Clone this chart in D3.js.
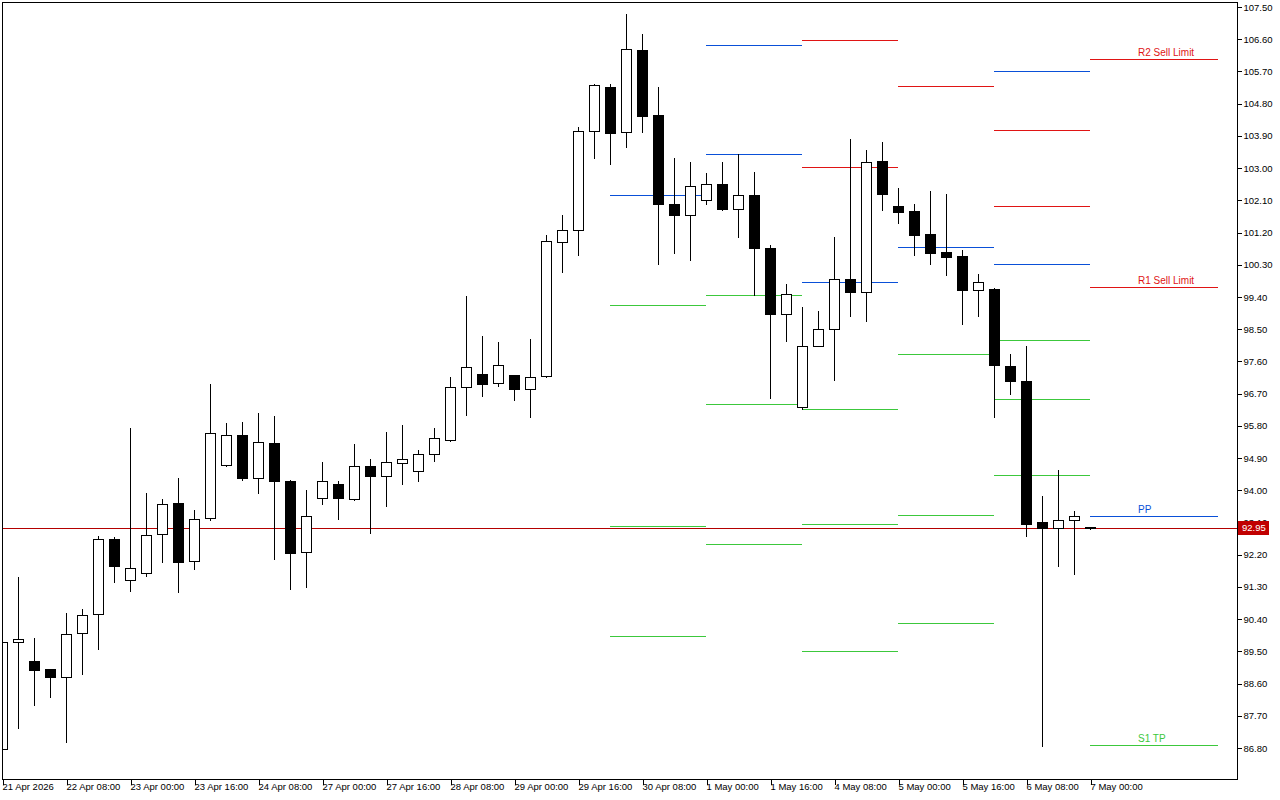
<!DOCTYPE html>
<html><head><meta charset="utf-8">
<script src="https://cdn.jsdelivr.net/npm/d3@7"></script>
<style>
body{margin:0;background:#fff}
svg{display:block}
text{font-family:"Liberation Sans",Arial,sans-serif}
</style>
</head><body>
<svg id="chart" width="1280" height="800"></svg>
<script>
// ---- data ----
const timeLabelIndex = [0,4,8,12,16,20,24,28,32,36,40,44,48,52,56,60,64,68];
const timeLabels = ["21 Apr 2026","22 Apr 08:00","23 Apr 00:00","23 Apr 16:00","24 Apr 08:00",
  "27 Apr 00:00","27 Apr 16:00","28 Apr 08:00","29 Apr 00:00","29 Apr 16:00","30 Apr 08:00",
  "1 May 00:00","1 May 16:00","4 May 08:00","5 May 00:00","5 May 16:00","6 May 08:00","7 May 00:00"];
const priceTicks = [86.80,87.70,88.60,89.50,90.40,91.30,92.20,93.10,94.00,94.90,95.80,96.70,
  97.60,98.50,99.40,100.30,101.20,102.10,103.00,103.90,104.80,105.70,106.60,107.50];

const opens  = [86.77,89.76,89.23,89.00,88.78,90.01,90.54,92.64,91.49,91.69,92.77,93.64,92.02,93.22,94.70,95.54,94.34,95.32,94.26,92.27,
  93.78,94.17,93.75,94.67,94.40,94.76,94.54,95.01,95.40,96.88,97.25,96.99,97.22,96.83,97.19,100.93,101.27,104.04,105.26,104.01,
  106.30,104.48,102.00,101.69,102.11,102.55,101.86,102.25,100.77,98.92,96.32,98.03,98.50,99.90,99.54,103.20,101.94,101.80,101.16,100.65,
  100.54,99.59,99.62,97.47,97.05,93.11,92.94,93.17,92.97];
const highs  = [89.78,91.57,89.87,89.00,90.57,90.68,92.72,92.69,95.74,93.92,93.75,94.34,93.45,96.97,95.88,95.90,96.16,96.07,94.28,94.00,
  94.79,94.26,95.29,94.87,95.62,95.82,95.12,95.74,97.16,99.42,98.31,98.14,97.22,98.22,101.13,101.69,104.15,105.34,105.35,107.30,
  106.75,105.26,103.28,103.17,102.86,103.17,103.39,102.89,100.85,99.76,99.12,99.01,101.07,103.81,103.50,103.73,102.44,102.00,102.36,102.27,
  100.71,100.04,99.65,97.80,98.03,93.84,94.56,93.42,92.97];
const lows   = [86.72,87.35,88.00,88.22,86.96,88.86,89.56,91.43,91.18,91.60,91.99,91.15,91.80,93.17,94.67,94.28,93.92,92.08,91.24,91.29,
  93.61,93.19,93.72,92.80,93.56,94.17,94.26,94.81,95.37,96.10,96.63,96.91,96.52,96.04,97.16,100.10,100.57,103.28,103.11,103.59,
  104.01,100.32,100.63,100.43,102.00,101.83,101.07,99.45,96.57,98.17,96.27,98.03,97.08,98.87,98.73,101.83,101.46,100.57,100.32,100.01,
  98.64,98.87,96.04,96.69,92.72,86.85,91.88,91.66,92.93];
const closes = [89.76,89.84,88.97,88.78,89.98,90.51,92.64,91.88,91.83,92.75,93.61,91.99,93.19,95.60,95.54,94.34,95.35,94.26,92.24,93.28,
  94.26,93.78,94.67,94.40,94.79,94.87,95.01,95.46,96.88,97.44,96.97,97.50,96.83,97.16,100.96,101.27,104.04,105.32,103.98,106.33,
  104.45,102.00,101.69,102.50,102.55,101.86,102.25,100.77,98.92,99.48,98.03,98.50,99.90,99.54,103.17,102.27,101.77,101.13,100.63,100.51,
  99.59,99.82,97.50,97.05,93.05,92.94,93.17,93.28,92.95];

// daily pivot segments: start / end bar index, level values and level kinds (R, P, S)
const pivotStart = [38,44,50,56,62,68];
const pivotEnd   = [44,50,56,62,68,76];
const pivotValues = [
  [102.25,99.17,93.00,89.93],
  [106.44,103.39,99.45,96.41,92.50],
  [106.58,103.03,99.82,96.27,93.05,89.51],
  [105.29,100.79,97.80,93.31,90.29],
  [105.71,104.06,101.94,100.32,98.20,96.55,94.42],
  [106.05,99.68,93.28,86.88]
];
const pivotKinds = [
  ["P","S","S","S"],
  ["P","P","S","S","S"],
  ["R","R","P","S","S","S"],
  ["R","P","S","S","S"],
  ["P","R","R","P","S","S","S"],
  ["R","R","P","S"]
];
const currentLabels = ["R2 Sell Limit","R1 Sell Limit","PP","S1 TP"];
const lastPrice = 92.95;

// ---- chart ----
const svg = d3.select("#chart");
const L = 2, T = 2, R = 1237, B = 779;
const x = d3.scaleLinear().domain([0, 76]).range([2, 2 + 16*76]);
const y = d3.scaleLinear().domain([86.80, 107.50]).range([748, 7]);
const kindColor = {R:"#e01414", P:"#0a50d8", S:"#3cc83c"};

svg.append("rect").attr("width",1280).attr("height",800).attr("fill","#fff");
svg.append("defs").append("clipPath").attr("id","plot")
  .append("rect").attr("x",L+0.5).attr("y",T+0.5).attr("width",R-L).attr("height",B-T);

const g = svg.append("g").attr("clip-path","url(#plot)").attr("shape-rendering","crispEdges");

// current price line
g.append("line").attr("x1",L).attr("x2",R).attr("y1",Math.round(y(lastPrice))+0.5).attr("y2",Math.round(y(lastPrice))+0.5)
  .attr("stroke","#b40000").attr("stroke-width",1);

// pivot lines
const segs = [];
pivotStart.forEach((s,i)=>{
  pivotValues[i].forEach((v,j)=>segs.push({s, e:pivotEnd[i], v, k:pivotKinds[i][j], last:i===pivotStart.length-1, j}));
});
g.selectAll("line.piv").data(segs).join("line").attr("class","piv")
  .attr("x1",d=>x(d.s)).attr("x2",d=>x(d.e))
  .attr("y1",d=>Math.round(y(d.v))+0.5).attr("y2",d=>Math.round(y(d.v))+0.5)
  .attr("stroke",d=>kindColor[d.k]).attr("stroke-width",1);

svg.selectAll("text.plab").data(segs.filter(d=>d.last)).join("text").attr("class","plab")
  .attr("x",d=>x(d.s)+48).attr("y",d=>Math.round(y(d.v))-3)
  .attr("font-size","10px").attr("fill",d=>kindColor[d.k])
  .text(d=>currentLabels[d.j]);

// candles
const bars = d3.range(opens.length).map(i=>({i,o:opens[i],h:highs[i],l:lows[i],c:closes[i]}));
g.selectAll("line.wick").data(bars).join("line").attr("class","wick")
  .attr("x1",d=>x(d.i)+0.5).attr("x2",d=>x(d.i)+0.5)
  .attr("y1",d=>Math.round(y(d.h))).attr("y2",d=>Math.round(y(d.l))+1)
  .attr("stroke","#000").attr("stroke-width",1);
g.selectAll("rect.body").data(bars).join("rect").attr("class","body")
  .attr("x",d=>x(d.i)-5+0.5)
  .attr("y",d=>Math.round(y(Math.max(d.o,d.c)))+0.5)
  .attr("width",10)
  .attr("height",d=>Math.max(1,Math.round(y(Math.min(d.o,d.c)))-Math.round(y(Math.max(d.o,d.c)))))
  .attr("fill",d=>d.c>=d.o?"#fff":"#000")
  .attr("stroke","#000").attr("stroke-width",1);

// frame
svg.append("rect").attr("x",L+0.5).attr("y",T+0.5).attr("width",R-L).attr("height",B-T)
  .attr("fill","none").attr("stroke","#000").attr("shape-rendering","crispEdges");

// price axis
const ya = svg.append("g").attr("transform",`translate(${R+0.5},0)`)
  .call(d3.axisRight(y).tickValues(priceTicks).tickSize(4).tickPadding(2).tickFormat(d3.format(".2f")));
ya.select(".domain").remove();
ya.selectAll("line").attr("stroke","#000").attr("shape-rendering","crispEdges");
ya.selectAll("text").attr("font-family","'Liberation Sans',Arial,sans-serif").attr("font-size","9.5px").attr("fill","#000");

// time axis
const xa = svg.append("g").attr("transform",`translate(0,${B+0.5})`)
  .call(d3.axisBottom(x).tickValues(timeLabelIndex).tickSize(5).tickFormat((d,i)=>timeLabels[i]));
xa.select(".domain").remove();
xa.selectAll(".tick line").attr("stroke","#000").attr("transform","translate(0.5,0)").attr("shape-rendering","crispEdges");
xa.selectAll("text").attr("text-anchor","start").attr("x",0).attr("dy","0.71em").attr("y",4)
  .attr("font-family","'Liberation Sans',Arial,sans-serif").attr("font-size","9.5px").attr("fill","#000");

// last price tag
const yp = Math.round(y(lastPrice));
svg.append("rect").attr("x",R+1).attr("y",yp-7).attr("width",31).attr("height",14).attr("fill","#c00000");
svg.append("text").attr("x",R+5).attr("y",yp).attr("dy","0.35em").attr("font-size","9.5px").attr("fill","#fff")
  .text(d3.format(".2f")(lastPrice));
</script>
</body></html>
